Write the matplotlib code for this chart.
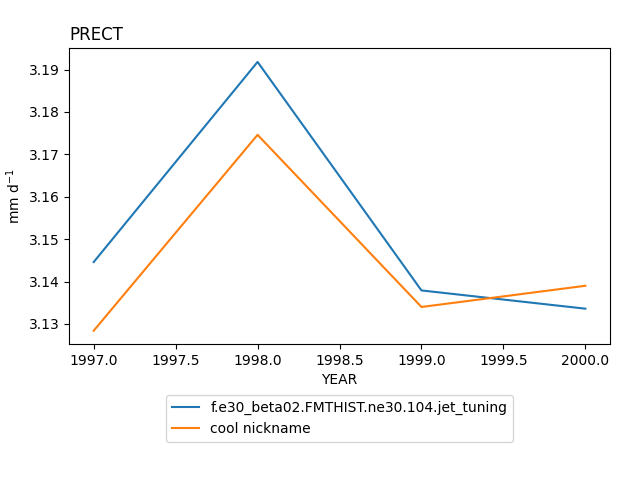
import matplotlib
matplotlib.use("Agg")
import matplotlib.pyplot as plt

years = [1997, 1998, 1999, 2000]
jet_tuning = [3.1446, 3.1918, 3.1379, 3.1336]
cool_nickname = [3.1284, 3.1746, 3.1340, 3.1390]
labels = ["f.e30_beta02.FMTHIST.ne30.104.jet_tuning", "cool nickname"]

fig, ax = plt.subplots(figsize=(6.4, 4.8), dpi=100)
fig.subplots_adjust(left=0.108, right=0.953, top=0.899, bottom=0.283)

ax.plot(years, jet_tuning, label=labels[0])
ax.plot(years, cool_nickname, label=labels[1])

ax.set_title("PRECT", loc="left")
ax.set_xlabel("YEAR")
ax.set_ylabel("mm d$^{-1}$")
ax.legend(loc="upper center", bbox_to_anchor=(0.5, -0.15))

fig.savefig("out.png")
